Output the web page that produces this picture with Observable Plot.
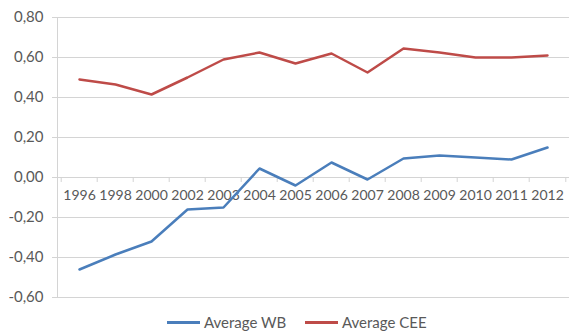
<!DOCTYPE html>
<html>
<head>
<meta charset="utf-8">
<script src="https://cdn.jsdelivr.net/npm/d3@7"></script>
<script src="https://cdn.jsdelivr.net/npm/@observablehq/plot@0.6"></script>
<style>
  body { margin: 0; background: #fff; font-family: Lato, "Liberation Sans", sans-serif; }
  #legend { position: relative; height: 25px; font-size: 15px; color: #595959; }
  #legend .item { position: absolute; top: 5px; display: flex; align-items: center; }
  #legend .swatch { width: 33px; height: 3px; margin-right: 4px; }
</style>
</head>
<body>
<div id="chart"></div>
<div id="legend"></div>
<script>
// Years shown along the category axis
const years = ["1996", "1998", "2000", "2002", "2003", "2004", "2005",
               "2006", "2007", "2008", "2009", "2010", "2011", "2012"];

// Average scores per group
const averageWB  = [-0.46, -0.385, -0.32, -0.16, -0.15, 0.045, -0.04,
                     0.075, -0.01, 0.095, 0.11, 0.10, 0.09, 0.15];
const averageCEE = [0.49, 0.465, 0.415, 0.50, 0.59, 0.625, 0.57,
                    0.62, 0.525, 0.645, 0.625, 0.60, 0.60, 0.61];

// Value axis ticks
const yTicks = [-0.6, -0.4, -0.2, 0, 0.2, 0.4, 0.6, 0.8];

const seriesNames  = ["Average WB", "Average CEE"];
const seriesColors = ["#4a7ebb", "#be4b48"];
const seriesValues = [averageWB, averageCEE];

const rows = seriesNames.flatMap((name, s) =>
  years.map((year, i) => ({ year, value: seriesValues[s][i], series: name })));

const fmt = d => d.toFixed(2).replace(".", ",");
const half = (569 - 57) / years.length / 2;
const gridColor = "#d4d4d4";
const textColor = "#595959";

const chart = Plot.plot({
  width: 569,
  height: 308,
  marginLeft: 57,
  marginRight: 0,
  marginTop: 17,
  marginBottom: 11,
  style: { fontFamily: "Lato, 'Liberation Sans', sans-serif", fontSize: "15px", background: "#fff" },
  x: { type: "band", domain: years, padding: 0, axis: null },
  y: { domain: [-0.6, 0.8], axis: null },
  color: { domain: seriesNames, range: seriesColors },
  marks: [
    Plot.gridY(yTicks, { stroke: gridColor, strokeOpacity: 1 }),
    Plot.frame({ anchor: "left", stroke: gridColor }),
    Plot.axisY(yTicks, {
      label: null, tickSize: 5, tickPadding: 9, tickFormat: fmt,
      stroke: gridColor, fill: textColor, fontSize: 15
    }),
    // category boundary ticks on the zero line
    Plot.ruleX(years, { x: d => d, y1: 0, y2: -0.025, dx: -half, stroke: gridColor }),
    Plot.ruleX(years.slice(-1), { x: d => d, y1: 0, y2: -0.025, dx: half, stroke: gridColor }),
    Plot.text(years, { x: d => d, y: 0, dy: 18, text: d => d, fill: textColor, fontSize: 14 }),
    Plot.line(rows, { x: "year", y: "value", z: "series", stroke: "series", strokeWidth: 2.5 })
  ]
});
document.getElementById("chart").append(chart);

// Legend beneath the chart
const legend = document.getElementById("legend");
const legendLeft = [167, 305];
seriesNames.forEach((name, i) => {
  const item = document.createElement("div");
  item.className = "item";
  item.style.left = legendLeft[i] + "px";
  const sw = document.createElement("span");
  sw.className = "swatch";
  sw.style.background = seriesColors[i];
  const label = document.createElement("span");
  label.textContent = name;
  item.append(sw, label);
  legend.append(item);
});
</script>
</body>
</html>
